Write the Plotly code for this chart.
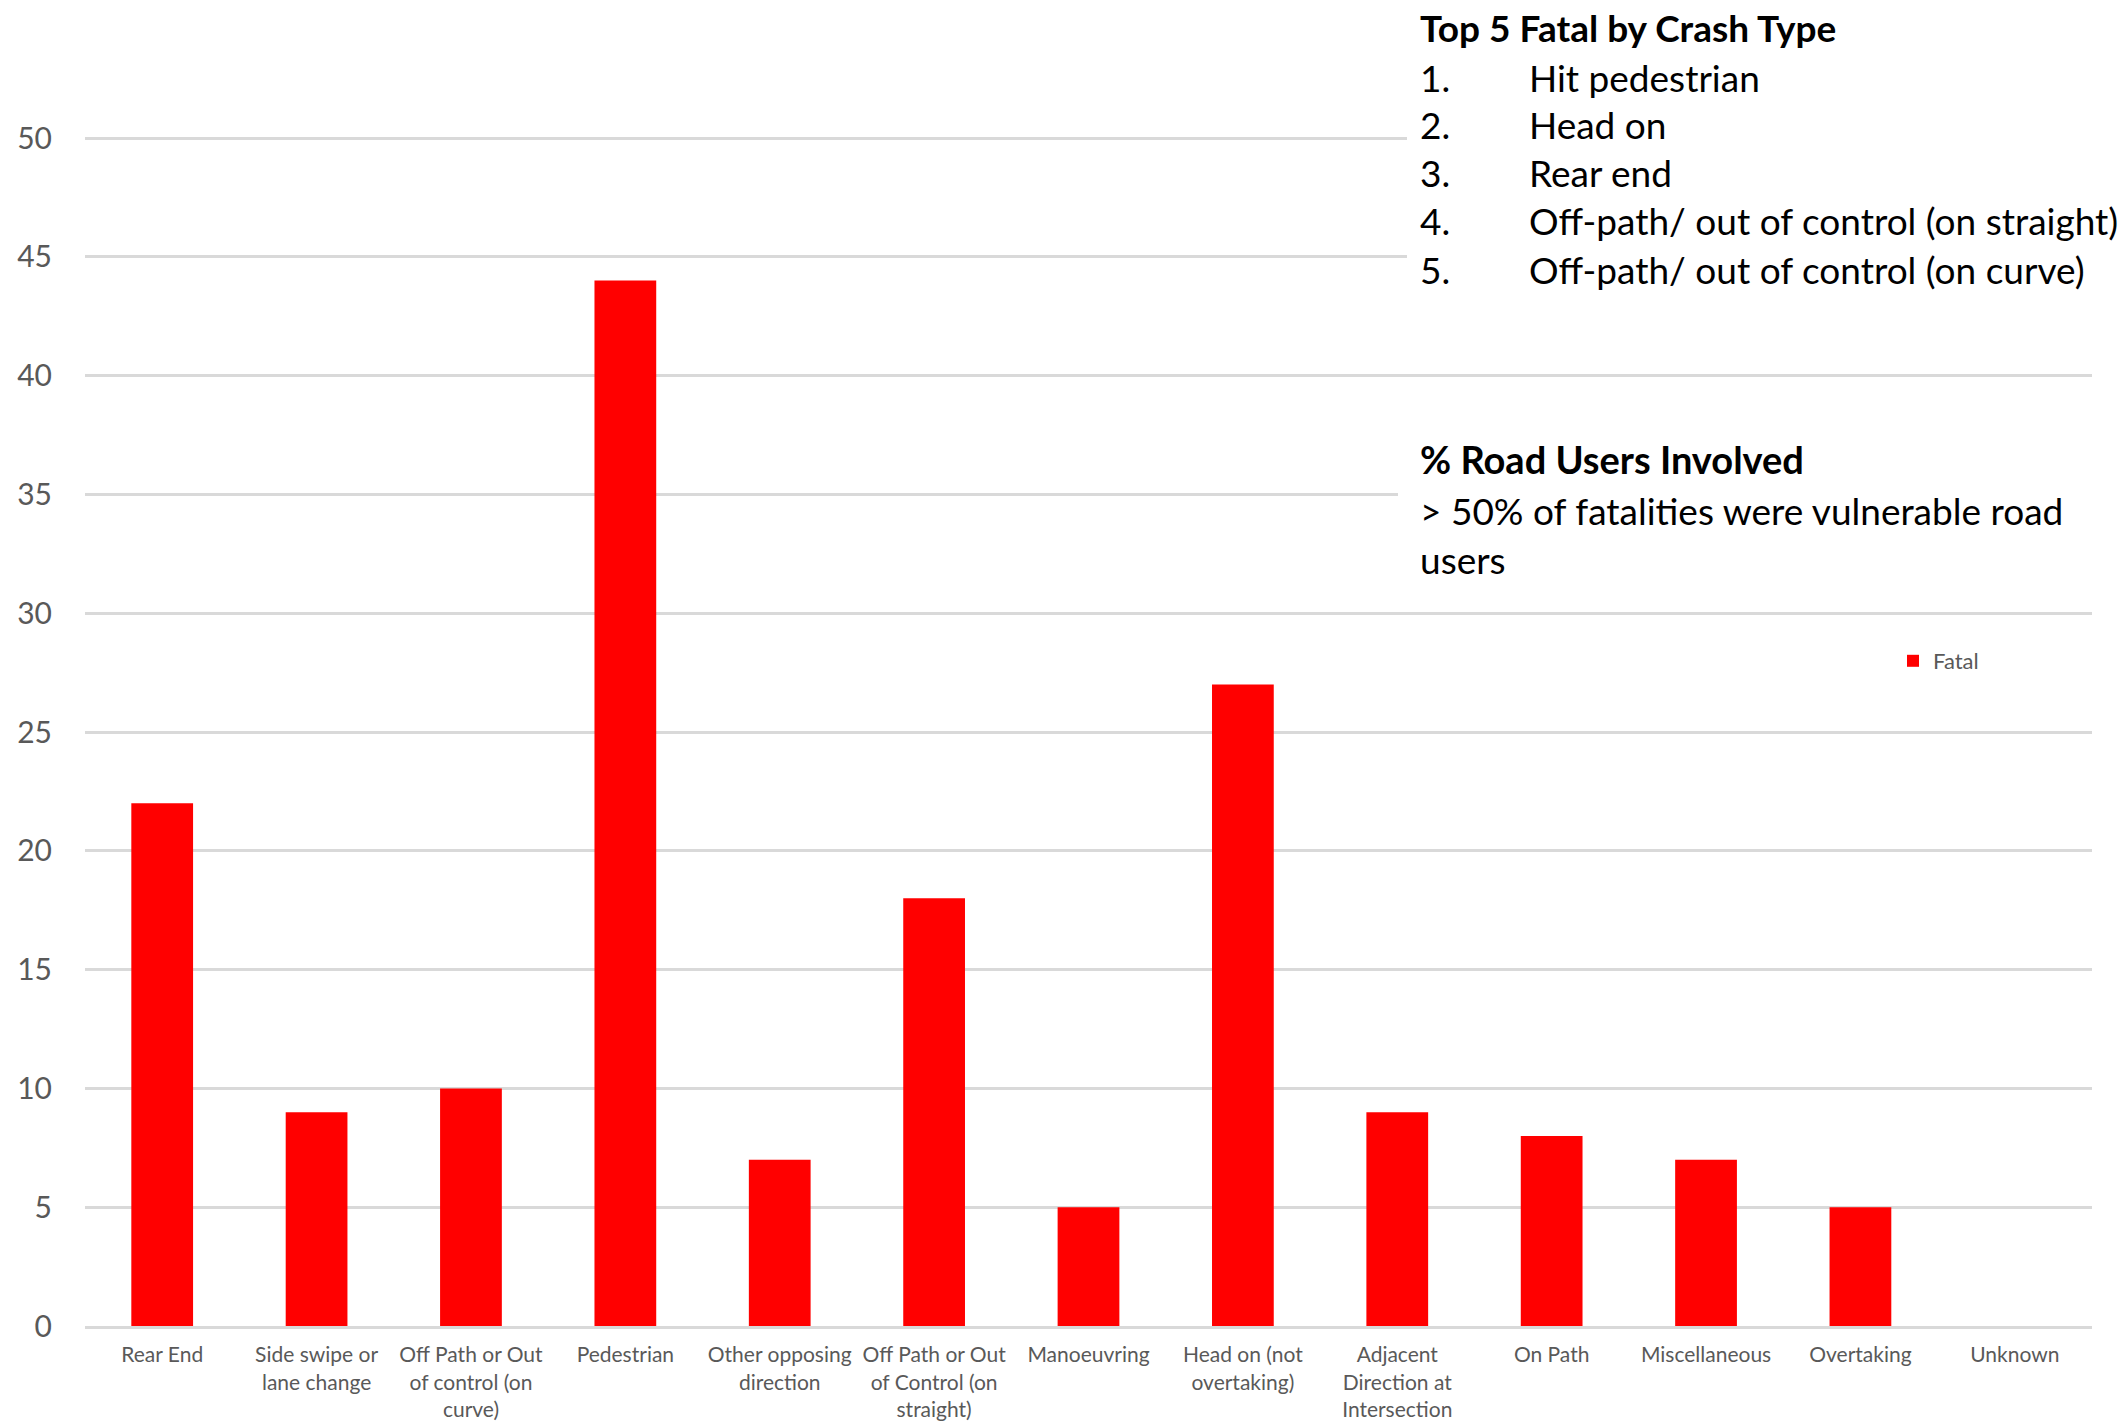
import plotly.graph_objects as go

# ---- data ----
categories = ["Rear End", "Side swipe or lane change", "Off Path or Out of control (on curve)",
              "Pedestrian", "Other opposing direction", "Off Path or Out of Control (on straight)",
              "Manoeuvring", "Head on (not overtaking)", "Adjacent Direction at Intersection",
              "On Path", "Miscellaneous", "Overtaking", "Unknown"]
tick_labels = ["Rear End", "Side swipe or<br>lane change", "Off Path or Out<br>of control (on<br>curve)",
               "Pedestrian", "Other opposing<br>direction", "Off Path or Out<br>of Control (on<br>straight)",
               "Manoeuvring", "Head on (not<br>overtaking)", "Adjacent<br>Direction at<br>Intersection",
               "On Path", "Miscellaneous", "Overtaking", "Unknown"]
fatal = [22, 9, 10, 44, 7, 18, 5, 27, 9, 8, 7, 5, 0]
y_ticks = [0, 5, 10, 15, 20, 25, 30, 35, 40, 45, 50]

top5_title = "Top 5 Fatal by Crash Type"
top5_numbers = ["1.", "2.", "3.", "4.", "5."]
top5_items = ["Hit pedestrian", "Head on", "Rear end",
              "Off-path/ out of control (on straight)", "Off-path/ out of control (on curve)"]
users_title = "% Road Users Involved"
users_lines = ["> 50% of fatalities were vulnerable road", "users"]

# ---- layout geometry ----
W, H = 2121, 1426
Y0_PX, Y50_PX = 1326, 138
UNIT = (Y0_PX - Y50_PX) / 50.0
L, R, B = 85, 29, H - Y0_PX
T = 132
Y_MAX = (Y0_PX - T) / UNIT
PW, PH = W - L - R, H - T - B


def px_x(p):
    return (p - L) / PW


def px_y(p):
    return (H - B - p) / PH


FONT = "Lato"
GRID = "#d9d9d9"
TICK = "#595959"
BOX_SIZE = 37

fig = go.Figure()
fig.add_trace(go.Bar(
    x=categories, y=fatal, name="Fatal",
    marker=dict(color="#ff0000", line=dict(width=0)),
))

annotations = []
annotations.append(dict(text="<b>" + top5_title + "</b>", x=px_x(1418), y=px_y(28),
                        font=dict(size=BOX_SIZE, color="#000000", family=FONT)))
row_y = [77, 124, 172, 221, 269]
for num, item, yy in zip(top5_numbers, top5_items, row_y):
    annotations.append(dict(text=num, x=px_x(1418), y=px_y(yy),
                            font=dict(size=BOX_SIZE, color="#000000", family=FONT)))
    annotations.append(dict(text=item, x=px_x(1527), y=px_y(yy),
                            font=dict(size=BOX_SIZE, color="#000000", family=FONT)))
annotations.append(dict(text="<b>" + users_title + "</b>", x=px_x(1418), y=px_y(459),
                        font=dict(size=BOX_SIZE + 1, color="#000000", family=FONT)))
for line, yy in zip(users_lines, [511, 559]):
    annotations.append(dict(text=line, x=px_x(1418), y=px_y(yy),
                            font=dict(size=BOX_SIZE, color="#000000", family=FONT)))
for a in annotations:
    a.update(xref="paper", yref="paper", xanchor="left", yanchor="middle", showarrow=False)

shapes = [
    dict(type="rect", xref="paper", yref="paper", x0=px_x(1407), x1=px_x(W), y0=px_y(0), y1=px_y(305),
         fillcolor="white", line=dict(width=0), layer="above"),
    dict(type="rect", xref="paper", yref="paper", x0=px_x(1398), x1=px_x(W), y0=px_y(425), y1=px_y(590),
         fillcolor="white", line=dict(width=0), layer="above"),
]

fig.update_layout(
    width=W, height=H,
    margin=dict(l=L, r=R, t=T, b=B, pad=0, autoexpand=False),
    paper_bgcolor="white", plot_bgcolor="white",
    bargap=0.6,
    showlegend=True,
    legend=dict(x=px_x(1893), y=px_y(661), xanchor="left", yanchor="middle",
                font=dict(size=22, color=TICK, family=FONT), bgcolor="rgba(0,0,0,0)",
                itemwidth=30),
    annotations=annotations,
    shapes=shapes,
    font=dict(family=FONT),
)
fig.update_xaxes(
    tickmode="array", tickvals=categories, ticktext=tick_labels,
    tickfont=dict(size=21, color=TICK, family=FONT),
    showgrid=False, showline=True, linecolor=GRID, linewidth=3,
    ticks="", ticklabelstandoff=8, zeroline=False, automargin=False,
)
fig.update_yaxes(
    range=[0, Y_MAX], tickmode="array", tickvals=y_ticks,
    tickfont=dict(size=30, color=TICK, family=FONT),
    showgrid=True, gridcolor=GRID, gridwidth=3,
    zeroline=False, showline=False, ticks="", ticklabelstandoff=32, automargin=False,
)

fig.write_html("out.html")
